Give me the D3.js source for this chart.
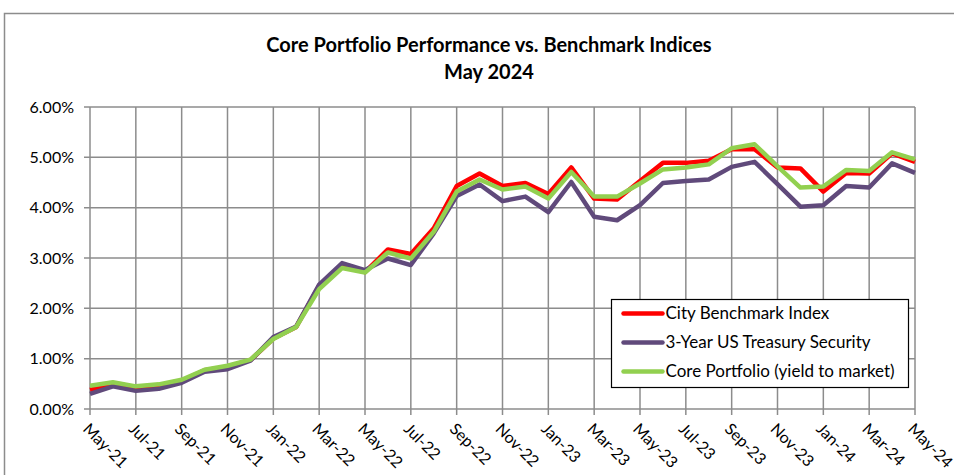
<!DOCTYPE html>
<html>
<head>
<meta charset="utf-8">
<script src="https://cdn.jsdelivr.net/npm/d3@7"></script>
<style>
  body { margin: 0; background: #fff; }
  text { font-family: Lato, "Open Sans", sans-serif; fill: #000; }
</style>
</head>
<body>
<div id="chart"></div>
<script>
const months = ["May-21","Jun-21","Jul-21","Aug-21","Sep-21","Oct-21","Nov-21","Dec-21",
  "Jan-22","Feb-22","Mar-22","Apr-22","May-22","Jun-22","Jul-22","Aug-22","Sep-22","Oct-22","Nov-22","Dec-22",
  "Jan-23","Feb-23","Mar-23","Apr-23","May-23","Jun-23","Jul-23","Aug-23","Sep-23","Oct-23","Nov-23","Dec-23",
  "Jan-24","Feb-24","Mar-24","Apr-24","May-24"]

const cityBenchmark = [0.38,0.50,0.42,0.45,0.56,0.77,0.84,0.97,1.40,1.63,2.45,2.85,2.72,3.17,3.08,3.59,
  4.43,4.68,4.43,4.49,4.27,4.80,4.18,4.16,4.53,4.89,4.89,4.93,5.16,5.16,4.80,4.78,4.32,4.69,4.68,5.08,4.91]
const treasury3yr = [0.30,0.45,0.36,0.40,0.52,0.74,0.79,0.96,1.43,1.64,2.47,2.90,2.76,2.99,2.86,3.49,
  4.23,4.46,4.13,4.22,3.91,4.51,3.82,3.75,4.05,4.49,4.53,4.56,4.81,4.91,4.47,4.02,4.05,4.43,4.40,4.88,4.69]
const corePortfolio = [0.46,0.53,0.45,0.49,0.58,0.78,0.86,0.98,1.39,1.63,2.38,2.80,2.71,3.11,2.99,3.52,
  4.32,4.56,4.36,4.42,4.18,4.71,4.22,4.22,4.48,4.76,4.80,4.86,5.18,5.26,4.82,4.40,4.42,4.75,4.73,5.10,4.96]

const yTicks = [0, 1, 2, 3, 4, 5, 6]

const series = [
  {name: "City Benchmark Index", values: cityBenchmark, color: "#ff0000"},
  {name: "3-Year US Treasury Security", values: treasury3yr, color: "#604a7b"},
  {name: "Core Portfolio (yield to market)", values: corePortfolio, color: "#92d050"},
]

const width = 954
const height = 475
const margin = {left: 90, right: 39, top: 107, bottom: 66}

const svg = d3.select("#chart").append("svg")
  .attr("width", width)
  .attr("height", height)

// outer chart frame
svg.append("rect")
  .attr("x", 4.5).attr("y", 13.5)
  .attr("width", width + 10).attr("height", height)
  .attr("fill", "none").attr("stroke", "#8c8c8c").attr("stroke-width", 1.5)

const x = d3.scalePoint()
  .domain(months)
  .range([margin.left, width - margin.right])

const y = d3.scaleLinear()
  .domain([0, 6])
  .range([height - margin.bottom, margin.top])

const labelMonths = months.filter((d, i) => i % 2 == 0)

// gridlines
const grid = svg.append("g").attr("stroke", "#8c8c8c").attr("stroke-width", 1.5)
grid.selectAll("line.h")
  .data(yTicks)
  .join("line")
  .attr("class", "h")
  .attr("x1", margin.left - 6).attr("x2", width - margin.right)
  .attr("y1", d => y(d)).attr("y2", d => y(d))
grid.selectAll("line.v")
  .data(labelMonths)
  .join("line")
  .attr("class", "v")
  .attr("x1", d => x(d)).attr("x2", d => x(d))
  .attr("y1", y(6)).attr("y2", y(0) + 6)

// y axis labels
svg.append("g")
  .selectAll("text")
  .data(yTicks)
  .join("text")
  .attr("x", margin.left - 16)
  .attr("y", d => y(d))
  .attr("dy", "0.35em")
  .attr("text-anchor", "end")
  .style("font-size", "16px")
  .text(d => d3.format(".2f")(d) + "%")

// x axis labels, rotated
svg.append("g")
  .selectAll("text")
  .data(labelMonths)
  .join("text")
  .attr("transform", d => `translate(${x(d) - 4},${y(0) + 17}) rotate(45)`)
  .attr("dy", "0.35em")
  .style("font-size", "16px")
  .text(d => d)

// lines
const line = d3.line()
  .x((d, i) => x(months[i]))
  .y(d => y(d))

svg.append("g")
  .selectAll("path")
  .data(series)
  .join("path")
  .attr("d", d => line(d.values))
  .attr("fill", "none")
  .attr("stroke", d => d.color)
  .attr("stroke-width", 4.5)
  .attr("stroke-linejoin", "round")

// title
const title = svg.append("g").attr("text-anchor", "middle")
  .style("font-size", "20px").style("font-weight", "bold")
title.append("text").attr("x", 489).attr("y", 52).text("Core Portfolio Performance vs. Benchmark Indices")
title.append("text").attr("x", 489).attr("y", 79).text("May 2024")

// legend
const legend = svg.append("g").attr("transform", "translate(611.5,299.5)")
legend.append("rect")
  .attr("width", 297).attr("height", 88)
  .attr("fill", "#fff").attr("stroke", "#000").attr("stroke-width", 1.2)

const item = legend.selectAll("g.item")
  .data(series)
  .join("g")
  .attr("class", "item")
  .attr("transform", (d, i) => `translate(0,${14 + i * 29})`)
item.append("line")
  .attr("x1", 12).attr("x2", 51)
  .attr("stroke", d => d.color).attr("stroke-width", 4.5).attr("stroke-linecap", "round")
item.append("text")
  .attr("x", 54).attr("dy", "0.35em")
  .style("font-size", "17px")
  .text(d => d.name)
</script>
</body>
</html>
